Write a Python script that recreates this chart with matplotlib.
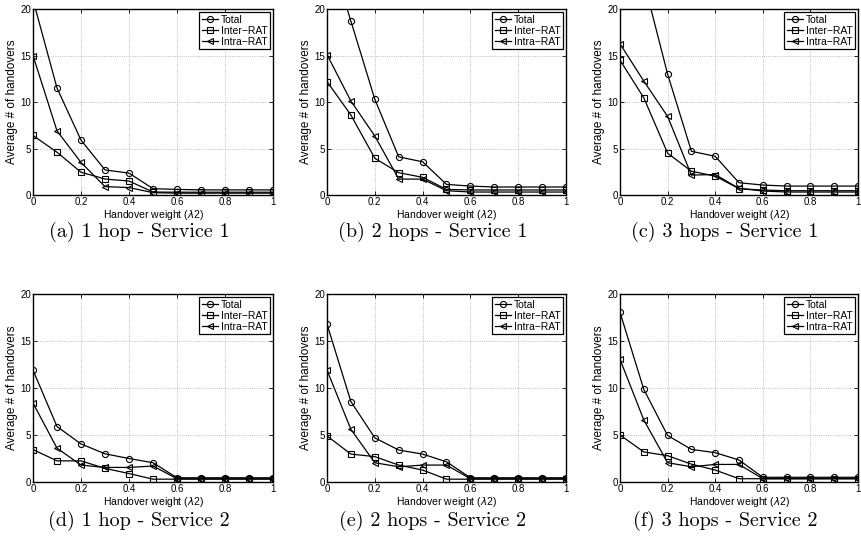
import numpy as np
import matplotlib
matplotlib.use('Agg')
import matplotlib.pyplot as plt

# handover weight values on the x axis
lam = [0, 0.1, 0.2, 0.3, 0.4, 0.5, 0.6, 0.7, 0.8, 0.9, 1.0]

# (a) 1 hop - Service 1
total_a = [21.0, 11.5, 5.9, 2.7, 2.35, 0.68, 0.6, 0.55, 0.55, 0.55, 0.55]
inter_a = [6.4, 4.6, 2.45, 1.72, 1.5, 0.32, 0.3, 0.3, 0.3, 0.3, 0.3]
intra_a = [15.0, 6.9, 3.5, 0.9, 0.8, 0.25, 0.2, 0.2, 0.2, 0.2, 0.2]

# (b) 2 hops - Service 1
total_b = [27.0, 18.7, 10.3, 4.1, 3.57, 1.14, 0.96, 0.86, 0.86, 0.86, 0.86]
inter_b = [12.2, 8.6, 3.95, 2.4, 1.9, 0.6, 0.54, 0.54, 0.54, 0.54, 0.54]
intra_b = [15.1, 10.1, 6.35, 1.71, 1.71, 0.46, 0.32, 0.32, 0.32, 0.32, 0.32]

# (c) 3 hops - Service 1
total_c = [34.0, 23.0, 13.0, 4.7, 4.16, 1.32, 1.07, 0.96, 0.96, 0.96, 0.96]
inter_c = [14.5, 10.45, 4.5, 2.56, 2.03, 0.68, 0.53, 0.46, 0.46, 0.46, 0.46]
intra_c = [16.25, 12.25, 8.45, 2.14, 2.2, 0.71, 0.43, 0.32, 0.32, 0.32, 0.32]

# (d) 1 hop - Service 2
total_d = [11.9, 5.9, 4.05, 3.0, 2.5, 2.05, 0.45, 0.45, 0.45, 0.45, 0.45]
inter_d = [3.45, 2.25, 2.25, 1.45, 0.9, 0.3, 0.3, 0.3, 0.3, 0.3, 0.3]
intra_d = [8.4, 3.6, 1.8, 1.55, 1.55, 1.7, 0.35, 0.35, 0.35, 0.35, 0.35]

# (e) 2 hops - Service 2
total_e = [16.8, 8.55, 4.7, 3.4, 2.97, 2.15, 0.45, 0.45, 0.45, 0.45, 0.45]
inter_e = [4.9, 2.97, 2.7, 1.8, 1.27, 0.3, 0.3, 0.3, 0.3, 0.3, 0.3]
intra_e = [11.9, 5.6, 2.05, 1.62, 1.8, 1.8, 0.35, 0.35, 0.35, 0.35, 0.35]

# (f) 3 hops - Service 2
total_f = [18.05, 9.85, 4.95, 3.47, 3.12, 2.34, 0.5, 0.5, 0.5, 0.5, 0.5]
inter_f = [5.0, 3.2, 2.8, 1.9, 1.27, 0.35, 0.35, 0.35, 0.35, 0.35, 0.35]
intra_f = [13.05, 6.6, 2.05, 1.62, 1.87, 1.87, 0.35, 0.35, 0.35, 0.35, 0.35]

captions = ['(a) 1 hop - Service 1', '(b) 2 hops - Service 1', '(c) 3 hops - Service 1',
            '(d) 1 hop - Service 2', '(e) 2 hops - Service 2', '(f) 3 hops - Service 2']
panels = [(total_a, inter_a, intra_a), (total_b, inter_b, intra_b), (total_c, inter_c, intra_c),
          (total_d, inter_d, intra_d), (total_e, inter_e, intra_e), (total_f, inter_f, intra_f)]

plt.rcParams['font.family'] = ['Liberation Sans', 'DejaVu Sans']
plt.rcParams['mathtext.fontset'] = 'dejavusans'

W, H = 862, 547
fig = plt.figure(figsize=(W/100, H/100), dpi=100)

# axes boxes in pixels: left, top, right, bottom
lefts = [33, 327, 620]
rights = [273, 566, 858]
rows = [(9, 195), (294, 482)]

for k, (tot, inte, intr) in enumerate(panels):
    r, c = divmod(k, 3)
    top, bot = rows[r]
    ax = fig.add_axes([lefts[c]/W, 1-bot/H, (rights[c]-lefts[c])/W, (bot-top)/H])
    ax.plot(lam, tot, '-o', color='k', lw=0.9, ms=4.4, mfc='none', mew=0.8, label='Total')
    ax.plot(lam, inte, '-s', color='k', lw=0.9, ms=4.0, mfc='none', mew=0.8, label='Inter\u2212RAT')
    ax.plot(lam, intr, '-<', color='k', lw=0.9, ms=4.4, mfc='none', mew=0.8, label='Intra\u2212RAT')
    ax.set_xlim(0, 1)
    ax.set_ylim(0, 20)
    ax.set_xticks([0, 0.2, 0.4, 0.6, 0.8, 1])
    ax.set_xticklabels(['0', '0.2', '0.4', '0.6', '0.8', '1'])
    ax.set_yticks([0, 5, 10, 15, 20])
    ax.tick_params(direction='in', length=3, width=0.6, labelsize=7, pad=1.5,
                   top=True, right=True)
    ax.grid(True, linestyle=':', color='#aaaaaa', lw=0.6)
    for s in ax.spines.values():
        s.set_linewidth(1.0)
    ax.set_xlabel('Handover weight ($\\lambda$2)', fontsize=7.5, labelpad=0.5)
    ax.set_ylabel('Average # of handovers', fontsize=8.5, labelpad=1.5)
    leg = ax.legend(loc='upper right', fontsize=7.5, frameon=True, fancybox=False,
                    edgecolor='k', framealpha=1, handlelength=1.6, handletextpad=0.2,
                    borderpad=0.25, labelspacing=0.1, borderaxespad=0.3)
    leg.get_frame().set_linewidth(0.9)
    cx = (lefts[c] - 28 + rights[c]) / 2
    cy = 232 if r == 0 else 521
    fig.text(cx/W, 1-cy/H, captions[k], family='cmr10', fontsize=14.5,
             ha='center', va='center')

fig.savefig('out.png', dpi=100)
